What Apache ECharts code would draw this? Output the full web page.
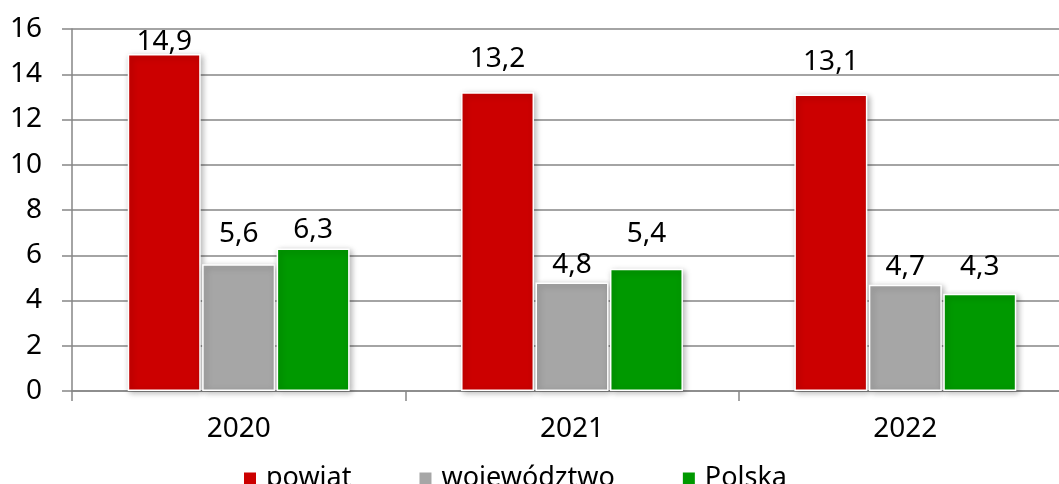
<!DOCTYPE html>
<html><head><meta charset="utf-8">
<script src="https://cdn.jsdelivr.net/npm/echarts@6/dist/echarts.min.js"></script>
<style>html,body{margin:0;padding:0;background:#fff}#c{width:1059px;height:484px}</style>
</head><body><div id="c"></div>
<script>
const categories = ['2020', '2021', '2022'];
const seriesNames = ['powiat', 'województwo', 'Polska'];
const powiat = [14.9, 13.2, 13.1];
const wojewodztwo = [5.6, 4.8, 4.7];
const polska = [6.3, 5.4, 4.3];
const yTicks = { min: 0, max: 16, interval: 2 };

const colors = ['#CC0000', '#A6A6A6', '#009900'];
// label distances above bars (styling only)
const labelDist = [[-2, 19, 19], [16, 3, 4], [4, 21, 13]];
const FONT = 'Noto Sans';
const values = [powiat, wojewodztwo, polska];

const chart = echarts.init(document.getElementById('c'));
chart.setOption({
  animation: false,
  textStyle: { fontFamily: FONT },
  grid: { left: 72, top: 29, height: 362, width: 1000, outerBoundsMode: 'none', containLabel: false },
  legend: {
    data: seriesNames, left: 242, top: 465, padding: 0, itemWidth: 14, itemHeight: 14, itemGap: 66,
    icon: 'rect',
    textStyle: { fontFamily: FONT, fontSize: 27, color: '#000', padding: [0, 0, 0, 4] }
  },
  xAxis: {
    type: 'category', data: categories,
    axisLine: { lineStyle: { color: '#868686', width: 1.5 } },
    axisTick: { show: true, length: 10, interval: 0, lineStyle: { color: '#868686', width: 1.5 } },
    axisLabel: { fontFamily: FONT, fontSize: 28, color: '#000', margin: 24 }
  },
  yAxis: {
    type: 'value', min: yTicks.min, max: yTicks.max, interval: yTicks.interval,
    axisLine: { show: true, lineStyle: { color: '#868686', width: 1.5 } },
    axisTick: { show: true, length: 10, lineStyle: { color: '#868686', width: 1.5 } },
    axisLabel: { fontFamily: FONT, fontSize: 28, color: '#000', margin: 30 },
    splitLine: { lineStyle: { color: '#868686', width: 1.5 } }
  },
  series: seriesNames.map((n, i) => ({
    name: n, type: 'bar',
    barWidth: 73, barGap: '2%',
    data: values[i].map((v, j) => ({
      value: v,
      label: { distance: labelDist[i][j] }
    })),
    itemStyle: {
      color: colors[i], borderColor: '#fff', borderWidth: 1.5,
      shadowColor: 'rgba(0,0,0,0.3)', shadowBlur: 6, shadowOffsetX: 2, shadowOffsetY: 2
    },
    label: {
      show: true, position: 'top', fontFamily: FONT, fontSize: 28, color: '#000',
      formatter: p => String(p.value).replace('.', ',')
    }
  }))
});
</script></body></html>
